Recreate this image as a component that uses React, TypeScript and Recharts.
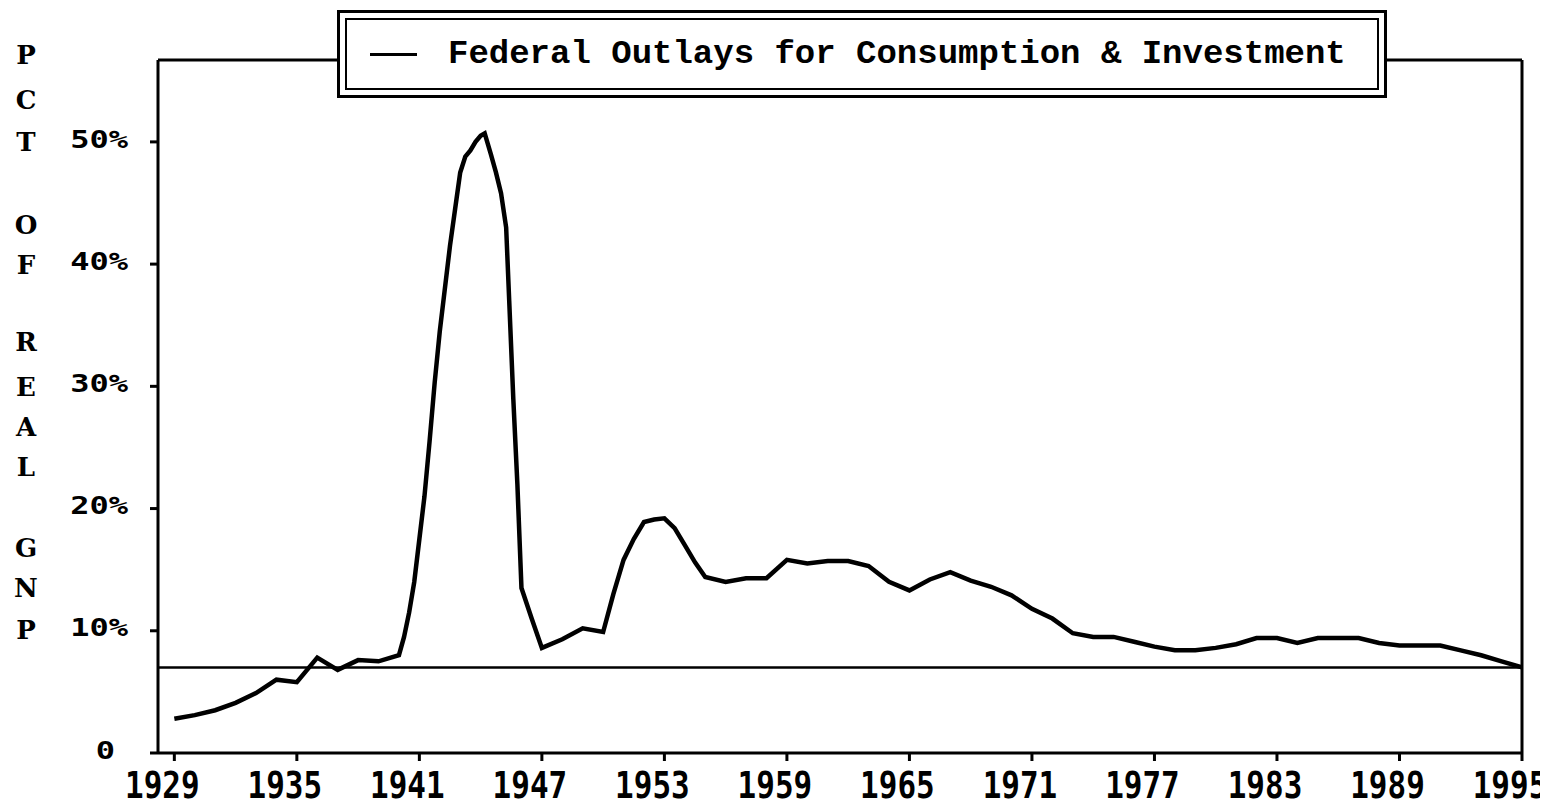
import { LineChart, Line, XAxis, YAxis, ReferenceLine, Legend, Customized } from "recharts";

// years (fractional points during the war years where the curve moves fast)
const YEARS = [
  1929, 1930, 1931, 1932, 1933, 1934, 1935, 1936, 1937, 1938, 1939,
  1940, 1940.25, 1940.5, 1940.75, 1941, 1941.25, 1941.5, 1941.75,
  1942, 1942.25, 1942.5, 1942.75, 1943, 1943.25, 1943.5, 1943.75,
  1944, 1944.2, 1944.5, 1944.75, 1945, 1945.25, 1945.4, 1945.6, 1945.8,
  1946, 1946.5, 1947, 1948, 1949, 1950, 1950.5, 1951, 1951.5, 1952, 1952.5,
  1953, 1953.5, 1954, 1954.5, 1955, 1956, 1957, 1958, 1959, 1960, 1961, 1962,
  1963, 1964, 1965, 1966, 1967, 1968, 1969, 1970, 1971, 1972, 1973, 1974,
  1975, 1976, 1977, 1978, 1979, 1980, 1981, 1982, 1983, 1984, 1985, 1986,
  1987, 1988, 1989, 1990, 1991, 1992, 1993, 1994, 1995,
];

// federal outlays, % of real GNP
const OUTLAYS = [
  2.8, 3.1, 3.5, 4.1, 4.9, 6.0, 5.8, 7.8, 6.8, 7.6, 7.5,
  8.0, 9.5, 11.5, 14.0, 17.5, 21.0, 25.5, 30.3,
  34.5, 38.0, 41.5, 44.5, 47.5, 48.8, 49.3, 50.0,
  50.5, 50.7, 49.0, 47.5, 45.8, 43.0, 37.0, 29.0, 22.0,
  13.5, 11.0, 8.6, 9.3, 10.2, 9.9, 13.0, 15.8, 17.5, 18.9, 19.1,
  19.2, 18.4, 17.0, 15.6, 14.4, 14.0, 14.3, 14.3, 15.8, 15.5, 15.7, 15.7,
  15.3, 14.0, 13.3, 14.2, 14.8, 14.1, 13.6, 12.9, 11.8, 11.0, 9.8, 9.5,
  9.5, 9.1, 8.7, 8.4, 8.4, 8.6, 8.9, 9.4, 9.4, 9.0, 9.4, 9.4,
  9.4, 9.0, 8.8, 8.8, 8.8, 8.4, 8.0, 7.5, 7.0,
];

const X_TICKS = [1929, 1935, 1941, 1947, 1953, 1959, 1965, 1971, 1977, 1983, 1989, 1995];
const Y_TICKS = [0, 10, 20, 30, 40, 50];
const X_DOMAIN = [1928.2, 1995];
const Y_DOMAIN = [0, 56.7];
const REF_LEVEL = 7;
const SIDE_LETTERS = ["P", "C", "T", "O", "F", "R", "E", "A", "L", "G", "N", "P"];
const SIDE_Y = [47, 92, 134, 217, 257, 334, 379, 419, 459, 540, 580, 622];
const LEGEND_TEXT = "Federal Outlays for Consumption & Investment";

const data = YEARS.map((y, i) => ({ year: y, outlays: OUTLAYS[i] }));

const black = "#000";
const mono = "'DejaVu Sans Mono', monospace";

function YTick(props: any) {
  const { x, y, payload } = props;
  const v = payload.value;
  const label = v === 0 ? "0" : `${v}%`;
  const dx = v === 0 ? -13 : 0;
  return (
    <text transform={`translate(${x + dx},${y - 3}) scale(1,0.78)`} textAnchor="end"
          dominantBaseline="central" fontFamily={mono} fontWeight="bold" fontSize={32} fill={black}>
      {label}
    </text>
  );
}

function XTick(props: any) {
  const { x, y, payload } = props;
  return (
    <text transform={`translate(${x - 12},${y + 24}) scale(1,1.22)`} textAnchor="middle"
          dominantBaseline="central" fontFamily={mono} fontWeight="bold" fontSize={31} fill={black}>
      {payload.value}
    </text>
  );
}

function SideTitle() {
  return (
    <g>
      {SIDE_LETTERS.map((c, i) => (
        <text key={i} x={18} y={SIDE_Y[i]} textAnchor="middle" dominantBaseline="central"
              fontFamily="'DejaVu Serif', serif" fontWeight="bold" fontSize={26} fill={black}>
          {c}
        </text>
      ))}
    </g>
  );
}

function LegendBox() {
  return (
    <div style={{
      width: 1050, height: 88, boxSizing: "border-box", border: "3px solid #000",
      padding: 5, background: "#fff",
    }}>
      <div style={{
        height: "100%", boxSizing: "border-box", border: "2px solid #000",
        display: "flex", alignItems: "center", paddingLeft: 23,
      }}>
        <div style={{ width: 47, height: 3, background: black }} />
        <span style={{
          marginLeft: 31, fontFamily: "'Liberation Mono', monospace", fontWeight: "bold",
          fontSize: 34, color: black, whiteSpace: "pre",
        }}>
          {LEGEND_TEXT}
        </span>
      </div>
    </div>
  );
}

export default function App() {
  const axisStyle = { stroke: black, strokeWidth: 3 };
  return (
    <div style={{ width: 1540, height: 801, marginBottom: -8, background: "#fff" }}>
      <LineChart width={1540} height={801} data={data}
                 margin={{ top: 52, right: 26, bottom: 0, left: 0 }}>
        <XAxis dataKey="year" type="number" domain={X_DOMAIN} ticks={X_TICKS}
               allowDataOverflow height={56} tickSize={8} tickMargin={0}
               axisLine={axisStyle} tickLine={axisStyle} tick={<XTick />} interval={0} />
        <YAxis type="number" domain={Y_DOMAIN} ticks={Y_TICKS} width={150} tickSize={8}
               tickMargin={22} axisLine={axisStyle} tickLine={axisStyle} tick={<YTick />} interval={0} />
        {/* top and right sides of the frame */}
        <ReferenceLine y={Y_DOMAIN[1]} stroke={black} strokeWidth={3} />
        <ReferenceLine x={X_DOMAIN[1]} stroke={black} strokeWidth={3} />
        <ReferenceLine y={REF_LEVEL} stroke={black} strokeWidth={2.5} />
        <Line type="linear" dataKey="outlays" name={LEGEND_TEXT} stroke={black} strokeWidth={4.5}
              dot={false} isAnimationActive={false} />
        <Legend layout="horizontal" verticalAlign="middle" align="center"
                wrapperStyle={{ left: 329, top: 2, width: 1050, height: 88 }}
                content={() => <LegendBox />} />
        <Customized component={SideTitle} />
      </LineChart>
    </div>
  );
}
